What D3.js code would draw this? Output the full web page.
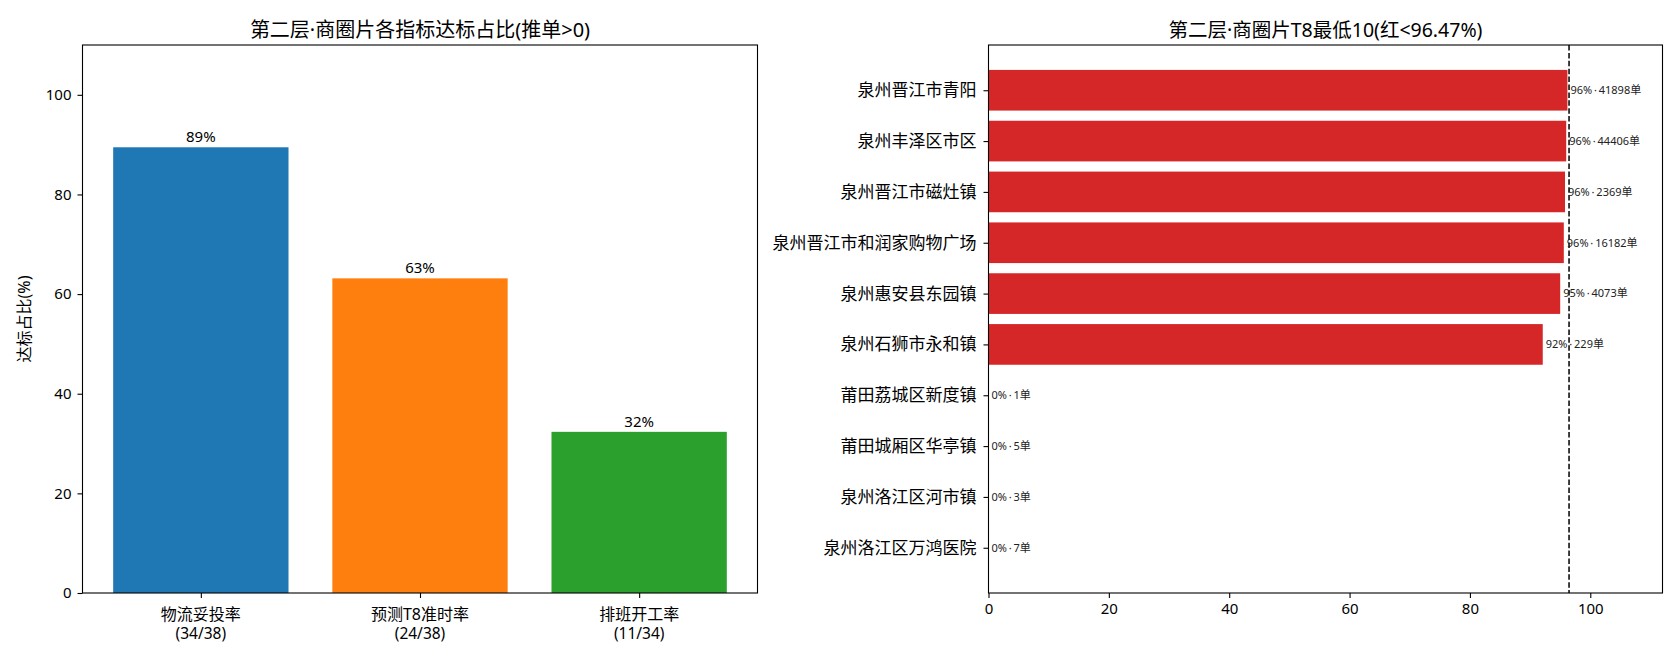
<!DOCTYPE html>
<html>
<head>
<meta charset="utf-8">
<script src="https://cdn.jsdelivr.net/npm/d3@7"></script>
<style>
  html, body { margin: 0; padding: 0; background: #fff; }
  svg text { font-family: "Noto Sans", "Noto Sans CJK SC", sans-serif; fill: #000; }
</style>
</head>
<body>
<svg id="chart" width="1680" height="660"></svg>
<script>
// ---- 左图数据: 各指标达标占比
const metricNames = ['物流妥投率', '预测T8准时率', '排班开工率'];
const metricFractions = ['(34/38)', '(24/38)', '(11/34)'];
const metricPct = [89.47, 63.16, 32.35];
const metricColors = ['#1f77b4', '#ff7f0e', '#2ca02c'];
const pctTicks = [0, 20, 40, 60, 80, 100];

// ---- 右图数据: T8最低10
const areaNames = ['泉州晋江市青阳', '泉州丰泽区市区', '泉州晋江市磁灶镇', '泉州晋江市和润家购物广场',
  '泉州惠安县东园镇', '泉州石狮市永和镇', '莆田荔城区新度镇', '莆田城厢区华亭镇', '泉州洛江区河市镇', '泉州洛江区万鸿医院'];
const areaRate = [96.2, 96.0, 95.8, 95.6, 95.0, 92.1, 0, 0, 0, 0];
const areaOrders = [41898, 44406, 2369, 16182, 4073, 229, 1, 5, 3, 7];
const t8Threshold = 96.47;
const rateTicks = [0, 20, 40, 60, 80, 100];

const FONT = '"Noto Sans", "Noto Sans CJK SC", sans-serif';
const svg = d3.select('#chart');

function frame(g, w, h) {
  g.append('rect')
    .attr('x', 0).attr('y', 0)
    .attr('width', w).attr('height', h)
    .attr('fill', 'none')
    .attr('stroke', '#000')
    .attr('stroke-width', 1.1);
}

// ================= 左图 =================
const L = { x: 82.5, y: 45, w: 675, h: 548 };
const gL = svg.append('g').attr('transform', `translate(${L.x},${L.y})`);

const xL = d3.scaleLinear().domain([-0.54, 2.54]).range([0, L.w]);
const yL = d3.scaleLinear().domain([0, 110]).range([L.h, 0]);

gL.selectAll('rect.bar')
  .data(metricPct)
  .enter()
  .append('rect')
  .attr('class', 'bar')
  .attr('x', (d, i) => xL(i - 0.4))
  .attr('width', (d, i) => xL(i + 0.4) - xL(i - 0.4))
  .attr('y', d => yL(d))
  .attr('height', d => yL(0) - yL(d))
  .attr('fill', (d, i) => metricColors[i]);

gL.selectAll('text.val')
  .data(metricPct)
  .enter()
  .append('text')
  .attr('class', 'val')
  .attr('x', (d, i) => xL(i))
  .attr('y', d => yL(d) - 5)
  .attr('text-anchor', 'middle')
  .style('font-size', '15px')
  .text(d => `${Math.round(d)}%`);

// y 轴
const yAxisL = gL.append('g')
  .call(d3.axisLeft(yL).tickValues(pctTicks).tickSize(5).tickPadding(6));
yAxisL.select('.domain').remove();
yAxisL.selectAll('text').style('font-size', '15px').style('font-family', FONT);
yAxisL.selectAll('line').attr('stroke-width', 1.1);

// x 轴 (两行标签, 分成两个文本)
const xAxisL = gL.append('g')
  .attr('transform', `translate(0,${L.h})`)
  .call(d3.axisBottom(xL).tickValues([0, 1, 2]).tickSize(5).tickFormat(''));
xAxisL.select('.domain').remove();
xAxisL.selectAll('line').attr('stroke-width', 1.1);

gL.selectAll('text.xlab')
  .data(metricNames)
  .enter()
  .append('text')
  .attr('class', 'xlab')
  .attr('x', (d, i) => xL(i))
  .attr('y', L.h + 26.5)
  .attr('text-anchor', 'middle')
  .style('font-size', '16px')
  .text(d => d);

gL.selectAll('text.xfrac')
  .data(metricFractions)
  .enter()
  .append('text')
  .attr('class', 'xfrac')
  .attr('x', (d, i) => xL(i))
  .attr('y', L.h + 46)
  .attr('text-anchor', 'middle')
  .style('font-size', '15.5px')
  .text(d => d);

frame(gL, L.w, L.h);

gL.append('text')
  .attr('x', L.w / 2)
  .attr('y', -8)
  .attr('text-anchor', 'middle')
  .style('font-size', '20px')
  .text('第二层·商圈片各指标达标占比(推单>0)');

gL.append('text')
  .attr('transform', `translate(${-53},${L.h / 2}) rotate(-90)`)
  .attr('text-anchor', 'middle')
  .style('font-size', '16px')
  .text('达标占比(%)');

// ================= 右图 =================
const R = { x: 988.5, y: 45, w: 674, h: 548 };
const gR = svg.append('g').attr('transform', `translate(${R.x},${R.y})`);

const xR = d3.scaleLinear().domain([0, 112]).range([0, R.w]);
const yR = d3.scaleLinear().domain([-0.89, 9.89]).range([0, R.h]);

gR.selectAll('rect.bar')
  .data(areaRate)
  .enter()
  .append('rect')
  .attr('class', 'bar')
  .attr('x', xR(0))
  .attr('width', d => xR(d) - xR(0))
  .attr('y', (d, i) => yR(i - 0.4))
  .attr('height', (d, i) => yR(i + 0.4) - yR(i - 0.4))
  .attr('fill', d => d < t8Threshold ? '#d62728' : '#2ca02c');

gR.append('line')
  .attr('x1', xR(t8Threshold)).attr('x2', xR(t8Threshold))
  .attr('y1', 0).attr('y2', R.h)
  .attr('stroke', '#000')
  .attr('stroke-width', 1.5)
  .attr('stroke-dasharray', '5.5,2.4');

gR.selectAll('text.val')
  .data(areaRate)
  .enter()
  .append('text')
  .attr('class', 'val')
  .attr('x', d => xR(d + 0.5))
  .attr('y', (d, i) => yR(i))
  .attr('dy', '0.35em')
  .style('font-size', '11px')
  .style('fill', '#222')
  .text((d, i) => `${Math.round(d)}%\u2009·\u2009${areaOrders[i]}单`);

const yAxisR = gR.append('g')
  .call(d3.axisLeft(yR).tickValues(d3.range(areaNames.length)).tickSize(5).tickPadding(7)
    .tickFormat(i => areaNames[i]));
yAxisR.select('.domain').remove();
yAxisR.selectAll('text').style('font-size', '17px').style('font-family', FONT);
yAxisR.selectAll('line').attr('stroke-width', 1.1);

const xAxisR = gR.append('g')
  .attr('transform', `translate(0,${R.h})`)
  .call(d3.axisBottom(xR).tickValues(rateTicks).tickSize(5).tickPadding(5));
xAxisR.select('.domain').remove();
xAxisR.selectAll('text').style('font-size', '15px').style('font-family', FONT);
xAxisR.selectAll('line').attr('stroke-width', 1.1);

frame(gR, R.w, R.h);

gR.append('text')
  .attr('x', R.w / 2)
  .attr('y', -8)
  .attr('text-anchor', 'middle')
  .style('font-size', '19.5px')
  .text('第二层·商圈片T8最低10(红<96.47%)');
</script>
</body>
</html>
